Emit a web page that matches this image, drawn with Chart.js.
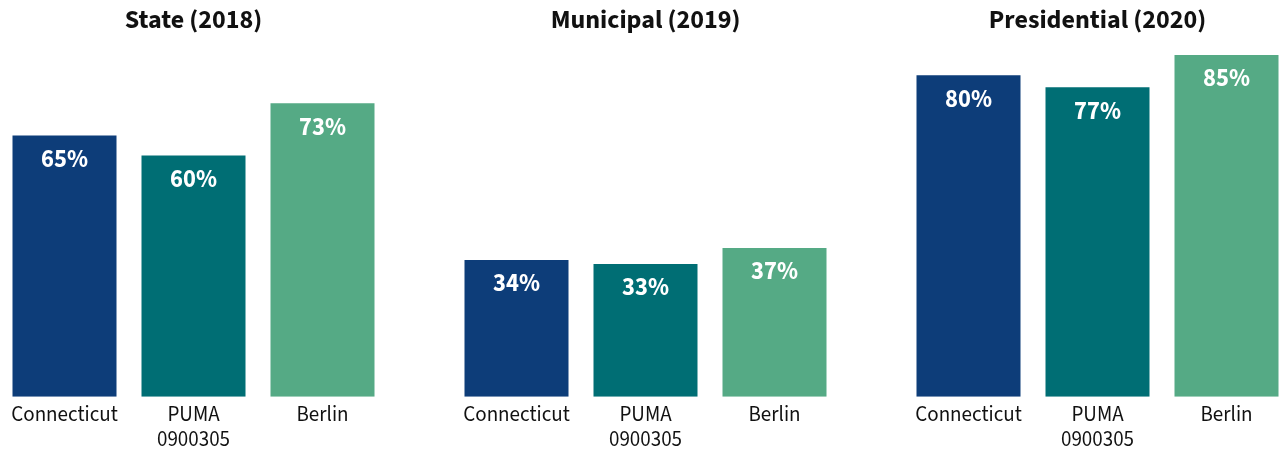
<!DOCTYPE html>
<html>
<head>
<meta charset="utf-8">
<script src="https://cdn.jsdelivr.net/npm/chart.js@4"></script>
<style>
body { margin: 0; background: #fff; }
#wrap { position: relative; width: 1281px; height: 450px; overflow: hidden; }
#wrap canvas { position: absolute; top: 0; }
</style>
</head>
<body>
<div id="wrap">
  <canvas id="chart1" width="387" height="462" style="left:0px"></canvas>
  <canvas id="chart2" width="387" height="462" style="left:452px"></canvas>
  <canvas id="chart3" width="387" height="462" style="left:904px"></canvas>
</div>
<script>
// data
var areas = ["Connecticut", ["PUMA", "0900305"], "Berlin"]
var titles = ["State (2018)", "Municipal (2019)", "Presidential (2020)"]
var state_2018 = [65, 60, 73]
var municipal_2019 = [34, 33, 37]
var presidential_2020 = [80, 77, 85]
var bar_colors = ["#0d3d79", "#006e74", "#55aa85"]

var font_family = "'Source Sans Pro', 'Source Sans 3', Lato, 'Noto Sans', sans-serif"

// white percent label just inside the top of each bar
var inner_labels = {
    id: "inner_labels",
    afterDatasetsDraw: function(chart){
        var ctx = chart.ctx
        var meta = chart.getDatasetMeta(0)
        var values = chart.data.datasets[0].data
        ctx.save()
        ctx.fillStyle = "#ffffff"
        ctx.font = "bold 24.5px " + font_family
        ctx.textAlign = "center"
        ctx.textBaseline = "middle"
        meta.data.forEach(function(bar, i){
            ctx.fillText(values[i] + "%", bar.x, bar.y + 26)
        })
        ctx.restore()
    }
}

function generate_bar_chart(element, title, values){
    var ctx = document.getElementById(element)
    return new Chart(ctx, {
        type: 'bar',
        data: {
            labels: areas,
            datasets: [{
                data: values,
                backgroundColor: bar_colors,
                borderWidth: 0,
                barPercentage: 104 / 129,
                categoryPercentage: 1
            }]
        },
        options: {
            responsive: false,
            animation: false,
            devicePixelRatio: 1,
            layout: { padding: { left: 0, right: 0, top: 0, bottom: 1 } },
            scales: {
                x: {
                    grid: { display: false, drawTicks: false },
                    border: { display: false },
                    ticks: {
                        color: "#111111",
                        padding: 8,
                        maxRotation: 0,
                        autoSkip: false,
                        font: { family: font_family, size: 21, lineHeight: 1.15 }
                    }
                },
                y: {
                    display: false,
                    min: 0,
                    max: 88
                }
            },
            plugins: {
                title: {
                    display: true,
                    text: title,
                    color: "#111111",
                    padding: { top: 7, bottom: 4.8 },
                    font: { family: font_family, size: 26, weight: 'bold', lineHeight: 1.2 }
                },
                legend: { display: false },
                tooltip: { enabled: false }
            }
        },
        plugins: [inner_labels]
    })
}

generate_bar_chart("chart1", titles[0], state_2018)
generate_bar_chart("chart2", titles[1], municipal_2019)
generate_bar_chart("chart3", titles[2], presidential_2020)
</script>
</body>
</html>
